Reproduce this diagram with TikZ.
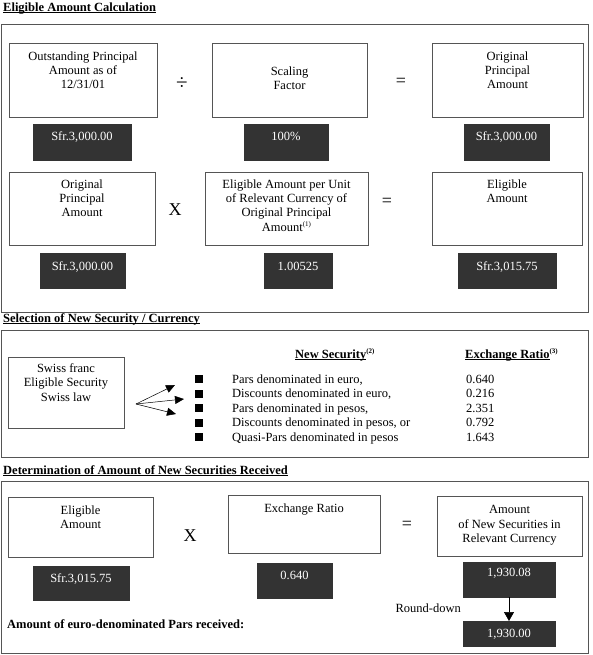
\documentclass[tikz,border=0pt]{standalone}
\usepackage{fontspec}
\setmainfont{Liberation Serif}
\usetikzlibrary{arrows.meta}
\definecolor{darkfill}{HTML}{333333}
\definecolor{linegray}{HTML}{555555}
\newsavebox\ulbox
\newcommand\ulx[1]{\sbox\ulbox{#1}\rlap{\rule[-1.8pt]{\wd\ulbox}{0.8pt}}\usebox\ulbox}
\newcommand\supx[1]{\raisebox{4.5pt}{\fontsize{7}{7}\selectfont(#1)}}
\tikzset{
  sz/.style 2 args={minimum width=#1pt, minimum height=#2pt},
  frame/.style={draw=linegray, line width=0.9pt, inner sep=0pt, outer sep=0pt},
  wbox/.style={draw=linegray, line width=0.9pt, fill=white, inner sep=0pt, outer sep=0pt},
  dbox/.style={fill=darkfill, draw=darkfill, inner sep=0pt, outer sep=0pt},
  dtxt/.style={text=white, inner sep=0pt, anchor=base, font=\fontsize{12.5}{14.3}\selectfont},
  btxt/.style={align=center, inner sep=0pt, anchor=north, font=\fontsize{12.5}{14.3}\selectfont},
  ltxt/.style={inner sep=0pt, anchor=base west, font=\fontsize{12.5}{14.3}\selectfont},
  hdtxt/.style={inner sep=0pt, anchor=base west, font=\bfseries\fontsize{12.5}{14.3}\selectfont},
  optxt/.style={inner sep=0pt, font=\fontsize{18}{18}\selectfont},
  sq/.style={fill=black, minimum size=8pt, inner sep=0pt, outer sep=0pt},
  arr/.style={draw=black, line width=0.5pt, -{Triangle[length=9pt,width=8pt]}},
  arrdown/.style={draw=black, line width=0.6pt, -{Triangle[length=9pt,width=10pt]}}
}
\begin{document}
\begin{tikzpicture}[x=1pt,y=-1pt]
\useasboundingbox (0,0) rectangle (592,655);
\fill[white] (0,0) rectangle (592,655);

% ---------- Section 1 ----------
\node[hdtxt] (t1) at (3,11.5) {\ulx{Eligible Amount Calculation}};
\node[frame, sz={587}{288}] (f1) at (294.5,168) {};

\node[wbox, sz={148}{74}] (a1) at (83,80) {};
\node[btxt] (a1t) at (83,51.5) {Outstanding Principal\\Amount as of\\12/31/01};
\node[optxt, font=\fontsize{21}{21}\selectfont] (op1) at (182,84) {÷};
\node[wbox, sz={155}{74}] (a2) at (289.5,80) {};
\node[btxt] (a2t) at (289.5,66.5) {Scaling\\Factor};
\node[optxt] (op2) at (401,82) {=};
\node[wbox, sz={151}{74}] (a3) at (507.5,80) {};
\node[btxt] (a3t) at (507.5,51.5) {Original\\Principal\\Amount};

\node[dbox, sz={98}{36}] (d1) at (82,142) {};
\node[dtxt] (d1t) at (82,141) {Sfr.3,000.00};
\node[dbox, sz={84}{36}] (d2) at (286,142) {};
\node[dtxt] (d2t) at (286,141) {100\%};
\node[dbox, sz={85}{36}] (d3) at (506.5,142) {};
\node[dtxt] (d3t) at (506.5,141) {Sfr.3,000.00};

\node[wbox, sz={146}{73}] (b1) at (82,208.5) {};
\node[btxt] (b1t) at (82,179.5) {Original\\Principal\\Amount};
\node[optxt] (op3) at (175,210) {X};
\node[wbox, sz={163}{73}] (b2) at (286.5,208.5) {};
\node[btxt] (b2t) at (286.5,179.5) {Eligible Amount per Unit\\of Relevant Currency of\\Original Principal\\Amount\supx{1}};
\node[optxt] (op4) at (387,202) {=};
\node[wbox, sz={150}{73}] (b3) at (507,208.5) {};
\node[btxt] (b3t) at (507,179.5) {Eligible\\Amount};

\node[dbox, sz={85}{35}] (e1) at (82.5,270.5) {};
\node[dtxt] (e1t) at (82.5,270) {Sfr.3,000.00};
\node[dbox, sz={68}{35}] (e2) at (298,270.5) {};
\node[dtxt] (e2t) at (298,270) {1.00525};
\node[dbox, sz={98}{35}] (e3) at (507,270.5) {};
\node[dtxt] (e3t) at (507,270) {Sfr.3,015.75};

% ---------- Section 2 ----------
\node[hdtxt] (t2) at (3,322) {\ulx{Selection of New Security / Currency}};
\node[frame, sz={587}{127}] (f2) at (294.5,393.5) {};

\node[wbox, sz={116}{71}] (s1) at (66,392.5) {};
\node[btxt] (s1t) at (66,363.5) {Swiss franc\\Eligible Security\\Swiss law};
\coordinate (src) at (136,404);
\coordinate (tip1) at (175,385);
\coordinate (tip2) at (184,399);
\coordinate (tip3) at (176,414);
\draw[arr] (src) -- (tip1);
\draw[arr] (src) -- (tip2);
\draw[arr] (src) -- (tip3);

\node[hdtxt] (h1) at (295,358) {\ulx{New Security}\supx{2}};
\node[hdtxt] (h2) at (465,358) {\ulx{Exchange Ratio}\supx{3}};

\node[sq] (q1) at (199,379) {};
\node[sq] (q2) at (199,393.5) {};
\node[sq] (q3) at (199,408) {};
\node[sq] (q4) at (199,422.5) {};
\node[sq] (q5) at (199,437) {};

\node[ltxt] (i1) at (232,383) {Pars denominated in euro,};
\node[ltxt] (i2) at (232,397.5) {Discounts denominated in euro,};
\node[ltxt] (i3) at (232,412) {Pars denominated in pesos,};
\node[ltxt] (i4) at (232,426.5) {Discounts denominated in pesos, or};
\node[ltxt] (i5) at (232,441) {Quasi-Pars denominated in pesos};

\node[ltxt] (v1) at (466,383) {0.640};
\node[ltxt] (v2) at (466,397.5) {0.216};
\node[ltxt] (v3) at (466,412) {2.351};
\node[ltxt] (v4) at (466,426.5) {0.792};
\node[ltxt] (v5) at (466,441) {1.643};

% ---------- Section 3 ----------
\node[hdtxt] (t3) at (3,474) {\ulx{Determination of Amount of New Securities Received}};
\node[frame, sz={587}{172}] (f3) at (294.5,567) {};

\node[wbox, sz={145}{60}] (c1) at (80.5,527) {};
\node[btxt] (c1t) at (80.5,505.5) {Eligible\\Amount};
\node[optxt] (op5) at (190,536) {X};
\node[wbox, sz={152}{58}] (c2) at (304,524) {};
\node[btxt] (c2t) at (304,503.5) {Exchange Ratio};
\node[optxt] (op6) at (407,525) {=};
\node[wbox, sz={145}{60}] (c3) at (509.5,526) {};
\node[btxt] (c3t) at (509.5,505.5) {Amount\\of New Securities in\\Relevant Currency};

\node[dbox, sz={96}{34}] (g1) at (81,583) {};
\node[dtxt] (g1t) at (81,582) {Sfr.3,015.75};
\node[dbox, sz={75}{35}] (g2) at (294.5,580.5) {};
\node[dtxt] (g2t) at (294.5,579) {0.640};
\node[dbox, sz={92}{35}] (g3) at (509,579.5) {};
\node[dtxt] (g3t) at (509,576.5) {1,930.08};
\node[dbox, sz={92}{25}] (g4) at (509,633.5) {};
\node[dtxt] (g4t) at (509,637.5) {1,930.00};
\draw[arrdown] (g3.south) -- (g4.north);

\node[ltxt, anchor=base east] (rd) at (461,612) {Round-down};
\node[hdtxt] (amt) at (7,628) {Amount of euro-denominated Pars received:};
\end{tikzpicture}
\end{document}
